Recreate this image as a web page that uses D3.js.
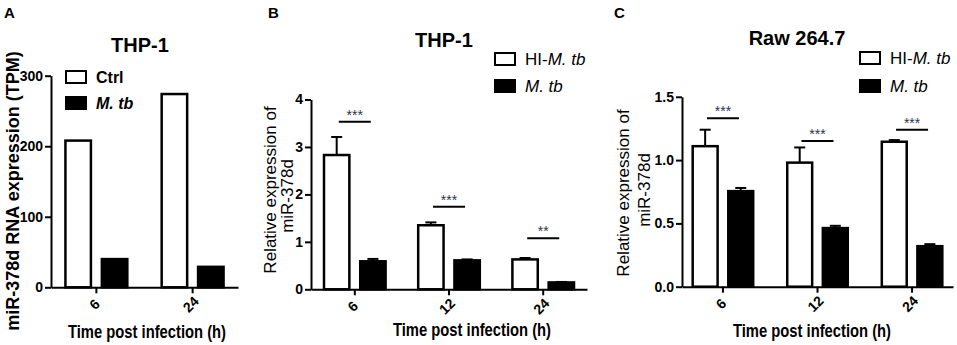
<!DOCTYPE html>
<html>
<head>
<meta charset="utf-8">
<script src="https://cdn.jsdelivr.net/npm/d3@7"></script>
<style>
  body { margin: 0; background: #fff; }
  svg { display: block; font-family: "Liberation Sans", Arial, sans-serif; }
</style>
</head>
<body>
<div id="chart"></div>
<script>
// Data
const timesA = ['6', '24'];
const ctrlA = [208, 274];
const mtbA = [40, 29];

const timesB = ['6', '12', '24'];
const hiB = [2.83, 1.35, 0.63];
const hiErrB = [0.38, 0.06, 0.03];
const mtbB = [0.59, 0.61, 0.145];
const mtbErrB = [0.05, 0.02, 0.01];
const sigB = [3.53, 1.74, 1.075];
const starsB = ['***', '***', '**'];

const timesC = ['6', '12', '24'];
const hiC = [1.11, 0.98, 1.145];
const hiErrC = [0.13, 0.12, 0.013];
const mtbC = [0.755, 0.463, 0.32];
const mtbErrC = [0.025, 0.018, 0.016];
const sigC = [1.33, 1.15, 1.24];
const starsC = ['***', '***', '***'];

const ticksA = [0, 100, 200, 300];
const ticksB = [0, 1, 2, 3, 4];
const ticksC = [0, 0.5, 1.0, 1.5];

const svg = d3.select('#chart').append('svg').attr('width', 957).attr('height', 345);

function panel(p) {
  const g = svg.append('g');
  const x = d3.scaleBand(p.cats, [p.x0, p.x1]).paddingInner(p.padIn).paddingOuter(p.padOut);
  const xs = d3.scaleBand([0, 1], [0, x.bandwidth()]).paddingInner(0.3);
  const y = d3.scaleLinear(p.domain, [p.y0, p.y1]);

  // error bars (upper only)
  p.series.forEach((s, i) => {
    if (!s.err) return;
    const cx = (j) => x(p.cats[j]) + xs(i) + xs.bandwidth() / 2;
    const eg = g.append('g').attr('stroke', '#000').attr('stroke-width', 2);
    eg.selectAll('.ev').data(s.values).join('line')
      .attr('x1', (d, j) => cx(j)).attr('x2', (d, j) => cx(j))
      .attr('y1', (d) => y(d)).attr('y2', (d, j) => y(d + s.err[j]));
    eg.selectAll('.ec').data(s.values).join('line')
      .attr('x1', (d, j) => cx(j) - 5.5).attr('x2', (d, j) => cx(j) + 5.5)
      .attr('y1', (d, j) => y(d + s.err[j])).attr('y2', (d, j) => y(d + s.err[j]));
  });

  // bars
  p.series.forEach((s, i) => {
    g.append('g').selectAll('rect').data(s.values).join('rect')
      .attr('x', (d, j) => x(p.cats[j]) + xs(i))
      .attr('y', (d) => y(d))
      .attr('width', xs.bandwidth())
      .attr('height', (d) => y(0) - y(d))
      .attr('fill', s.fill)
      .attr('stroke', '#000')
      .attr('stroke-width', 2.5);
  });

  // significance
  if (p.sig) {
    g.append('g').selectAll('line').data(p.sig).join('line')
      .attr('x1', (d, j) => x(p.cats[j]) + x.bandwidth() / 2 - 16)
      .attr('x2', (d, j) => x(p.cats[j]) + x.bandwidth() / 2 + 16)
      .attr('y1', (d) => y(d)).attr('y2', (d) => y(d))
      .attr('stroke', '#000').attr('stroke-width', 2);
    g.append('g').selectAll('text').data(p.sig).join('text')
      .attr('x', (d, j) => x(p.cats[j]) + x.bandwidth() / 2)
      .attr('y', (d) => y(d) - 2)
      .attr('text-anchor', 'middle')
      .attr('font-size', 14)
      .attr('fill', '#2d3350')
      .text((d, j) => p.stars[j]);
  }

  // axes
  const yAxis = d3.axisLeft(y).tickValues(p.ticks).tickFormat(p.fmt).tickSize(6).tickSizeOuter(0);
  const ya = g.append('g').attr('transform', `translate(${p.x0},0)`).call(yAxis);
  const xAxis = d3.axisBottom(x).tickSize(6).tickSizeOuter(0);
  const xa = g.append('g').attr('transform', `translate(0,${p.y0})`).call(xAxis);
  [ya, xa].forEach((a) => {
    a.select('.domain').attr('stroke-width', 2);
    a.selectAll('.tick line').attr('stroke-width', 2);
    a.selectAll('.tick text').attr('font-size', 14).attr('font-weight', 'bold')
      .attr('font-family', '"Liberation Sans", Arial, sans-serif').attr('fill', '#000');
  });
  ya.selectAll('.tick text').attr('x', -8);
  xa.selectAll('.tick text')
    .attr('y', 0).attr('dy', 0)
    .attr('text-anchor', 'middle')
    .attr('dominant-baseline', 'central')
    .attr('transform', 'translate(-2,17) rotate(-45)');

  // title
  g.append('text').attr('x', p.title[1]).attr('y', p.title[2])
    .attr('text-anchor', 'middle').attr('font-size', 20).attr('font-weight', 'bold')
    .text(p.title[0]);

  // panel letter
  g.append('text').attr('x', p.letter[1]).attr('y', 18)
    .attr('font-size', 15).attr('font-weight', 'bold').text(p.letter[0]);

  // x label
  g.append('text').attr('x', p.xlab[0]).attr('y', p.xlab[1])
    .attr('text-anchor', 'middle').attr('font-size', 19).attr('font-weight', 'bold')
    .attr('textLength', 158).attr('lengthAdjust', 'spacingAndGlyphs')
    .text('Time post infection (h)');

  // y label
  p.ylab.forEach((l) => {
    g.append('text')
      .attr('transform', `translate(${l.x},${l.y}) rotate(-90)`)
      .attr('text-anchor', 'middle')
      .attr('font-size', l.size)
      .attr('font-weight', l.bold ? 'bold' : 'normal')
      .text(l.text);
  });

  // legend
  p.series.forEach((s, i) => {
    const ly = p.legend.y[i];
    g.append('rect').attr('x', p.legend.x).attr('y', ly).attr('width', 20).attr('height', 12)
      .attr('fill', s.fill).attr('stroke', '#000').attr('stroke-width', 2);
    const t = g.append('text').attr('x', p.legend.x + 30).attr('y', ly + 12)
      .attr('font-size', p.legend.size).attr('font-weight', p.legend.bold ? 'bold' : 'normal');
    if (s.prefix) t.append('tspan').text(s.prefix);
    if (s.italic) t.append('tspan').attr('font-style', 'italic').text(s.italic);
  });
}

panel({
  cats: timesA,
  series: [
    { values: ctrlA, fill: '#fff', prefix: 'Ctrl' },
    { values: mtbA, fill: '#000', italic: 'M. tb' },
  ],
  x0: 51, x1: 238, padIn: 0.357, padOut: 0.15,
  domain: [0, 300], y0: 287.3, y1: 75.7,
  ticks: ticksA, fmt: d3.format('d'),
  title: ['THP-1', 140, 52],
  letter: ['A', 4],
  xlab: [147, 338],
  ylab: [{ text: 'miR-378d RNA expression (TPM)', x: 19, y: 191, size: 18, bold: true }],
  legend: { x: 66, y: [71, 97], size: 16, bold: true },
});

panel({
  cats: timesB,
  series: [
    { values: hiB, err: hiErrB, fill: '#fff', prefix: 'HI-', italic: 'M. tb' },
    { values: mtbB, err: mtbErrB, fill: '#000', italic: 'M. tb' },
  ],
  x0: 311, x1: 587, padIn: 0.346, padOut: 0.138,
  domain: [0, 4], y0: 289.3, y1: 99.5,
  ticks: ticksB, fmt: d3.format('d'),
  sig: sigB, stars: starsB,
  title: ['THP-1', 444, 47],
  letter: ['B', 268],
  xlab: [472, 336],
  ylab: [
    { text: 'Relative expression of', x: 276, y: 190, size: 17 },
    { text: 'miR-378d', x: 293, y: 196, size: 17 },
  ],
  legend: { x: 495, y: [53, 80], size: 17 },
});

panel({
  cats: timesC,
  series: [
    { values: hiC, err: hiErrC, fill: '#fff', prefix: 'HI-', italic: 'M. tb' },
    { values: mtbC, err: mtbErrC, fill: '#000', italic: 'M. tb' },
  ],
  x0: 682, x1: 953, padIn: 0.36, padOut: 0.113,
  domain: [0, 1.5], y0: 286.7, y1: 96.8,
  ticks: ticksC, fmt: d3.format('.1f'),
  sig: sigC, stars: starsC,
  title: ['Raw 264.7', 797, 45],
  letter: ['C', 614],
  xlab: [812, 337],
  ylab: [
    { text: 'Relative expression of', x: 629, y: 193, size: 17 },
    { text: 'miR-378d', x: 650, y: 190, size: 17 },
  ],
  legend: { x: 860, y: [52, 80], size: 17 },
});
</script>
</body>
</html>
